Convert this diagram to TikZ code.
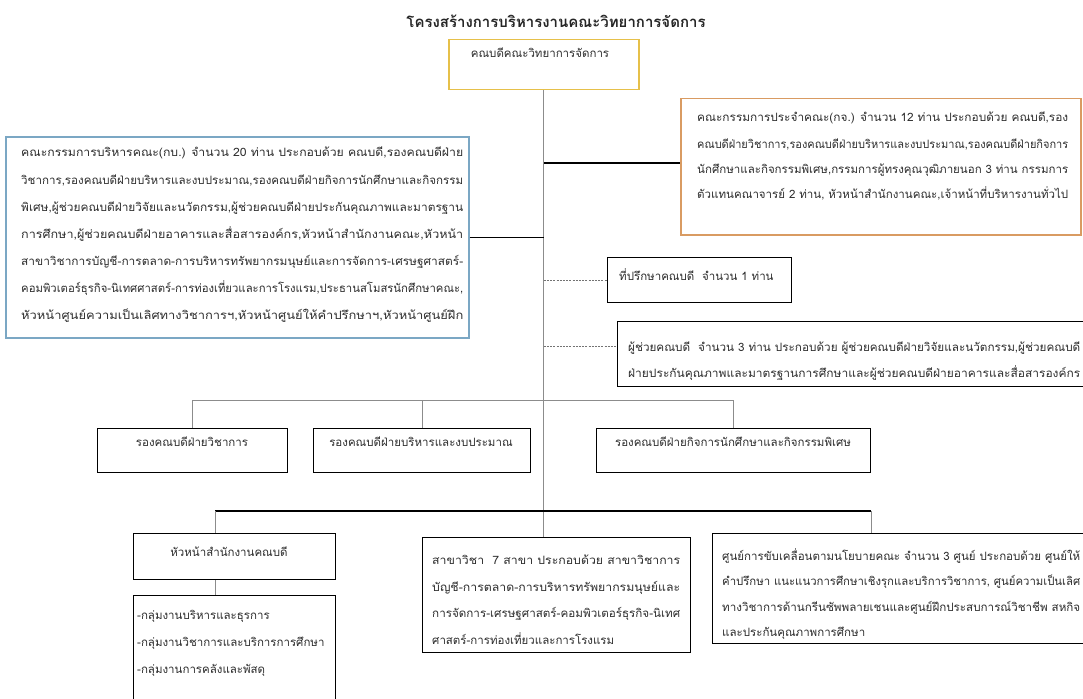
\documentclass[tikz,border=0pt]{standalone}
\usepackage{fontspec}
\usepackage{graphicx}
\newfontfamily\thaifont[Script=Thai]{Loma}
\definecolor{deanc}{HTML}{E6C04A}
\definecolor{orangec}{HTML}{D99B62}
\definecolor{bluec}{HTML}{7BA7C4}
\definecolor{txtc}{HTML}{2E2E2E}
\newcommand\jfit[2]{\resizebox{#1}{\height}{#2}}
\tikzset{
  box/.style={draw=black, line width=1.3pt, anchor=north west, inner sep=0pt, fill=white},
  txt/.style={font=\thaifont\fontsize{11.5}{13}\selectfont, text=txtc, inner sep=0pt, anchor=base west},
  ctxt/.style={txt, anchor=base},
  ln/.style={draw=black!45, line width=0.8pt},
  blk/.style={draw=black, line width=1.2pt},
  dsh/.style={draw=black!55, line width=0.6pt, dash pattern=on 2pt off 1.2pt}
}
\begin{document}
\begin{tikzpicture}[x=1pt,y=-1pt]
\clip (0,0) rectangle (1083,698);
\fill[white] (0,0) rectangle (1083,698);

% boxes
\node[box, draw=deanc, line width=1.5pt, minimum width=190pt, minimum height=50pt] (dean) at (448,39) {};
\node[box, draw=orangec, line width=1.5pt, minimum width=400pt, minimum height=136pt] (orange) at (680,98) {};
\node[box, draw=bluec, line width=1.5pt, minimum width=463pt, minimum height=201pt] (blue) at (5,136) {};
\node[box, minimum width=184pt, minimum height=45pt] (adv) at (607,257) {};
\node[box, minimum width=500pt, minimum height=65pt] (asst) at (617,321) {};
\node[box, minimum width=190pt, minimum height=44pt] (vd1) at (97,428) {};
\node[box, minimum width=217pt, minimum height=44pt] (vd2) at (313,428) {};
\node[box, minimum width=274pt, minimum height=44pt] (vd3) at (596,428) {};
\node[box, minimum width=202pt, minimum height=46pt] (off) at (133,533) {};
\node[box, minimum width=202pt, minimum height=120pt] (list) at (133,595) {};
\node[box, minimum width=268pt, minimum height=115pt] (mid) at (422,537) {};
\node[box, minimum width=400pt, minimum height=110pt] (right) at (712,533) {};

% connectors
\coordinate (hubA) at (543,400);
\coordinate (hubB) at (543,511);
\coordinate (offdrop) at (215,533);
\coordinate (rdrop) at (871,533);
\coordinate (orgin) at (680,163);
\coordinate (asstin) at (617,346);
\draw[ln] (dean.south) -- (dean.south |- mid.north);
\draw[blk] (dean.south |- orgin) -- (orgin);
\draw[blk] (blue.east) -- (blue.east -| dean.south);
\draw[dsh] (adv.west -| dean.south) -- (adv.west);
\draw[dsh] (asstin -| dean.south) -- (asstin);
\draw[ln] (vd1.north) -- (vd1.north |- hubA) -- (vd3.north |- hubA) -- (vd3.north);
\draw[ln] (vd2.north) -- (vd2.north |- hubA);
\draw[blk] (offdrop |- hubB) -- (rdrop |- hubB);
\draw[ln] (offdrop |- hubB) -- (offdrop);
\draw[ln] (rdrop |- hubB) -- (rdrop);
\draw[ln] (offdrop |- off.south) -- (offdrop |- list.north);

% title
\node[font=\thaifont\bfseries\fontsize{15}{17}\selectfont, text=black!85, inner sep=0pt, anchor=base] (title) at (556,28) {โครงสร้างการบริหารงานคณะวิทยาการจัดการ};
\node[ctxt] (deant) at (540,58) {คณบดีคณะวิทยาการจัดการ};

% blue box text
\node[txt] (b1) at (21,157) {\jfit{442pt}{คณะกรรมการบริหารคณะ(กบ.) จำนวน 20 ท่าน ประกอบด้วย คณบดี,รองคณบดีฝ่าย}};
\node[txt] (b2) at (21,184) {\jfit{442pt}{วิชาการ,รองคณบดีฝ่ายบริหารและงบประมาณ,รองคณบดีฝ่ายกิจการนักศึกษาและกิจกรรม}};
\node[txt] (b3) at (21,211) {\jfit{442pt}{พิเศษ,ผู้ช่วยคณบดีฝ่ายวิจัยและนวัตกรรม,ผู้ช่วยคณบดีฝ่ายประกันคุณภาพและมาตรฐาน}};
\node[txt] (b4) at (21,238) {\jfit{442pt}{การศึกษา,ผู้ช่วยคณบดีฝ่ายอาคารและสื่อสารองค์กร,หัวหน้าสำนักงานคณะ,หัวหน้า}};
\node[txt] (b5) at (21,265) {\jfit{442pt}{สาขาวิชาการบัญชี-การตลาด-การบริหารทรัพยากรมนุษย์และการจัดการ-เศรษฐศาสตร์-}};
\node[txt] (b6) at (21,292) {\jfit{442pt}{คอมพิวเตอร์ธุรกิจ-นิเทศศาสตร์-การท่องเที่ยวและการโรงแรม,ประธานสโมสรนักศึกษาคณะ,}};
\node[txt] (b7) at (21,319) {\jfit{442pt}{หัวหน้าศูนย์ความเป็นเลิศทางวิชาการฯ,หัวหน้าศูนย์ให้คำปรึกษาฯ,หัวหน้าศูนย์ฝึก}};

% orange box text
\node[txt] (o1) at (697,122) {\jfit{371pt}{คณะกรรมการประจำคณะ(กจ.) จำนวน 12 ท่าน ประกอบด้วย คณบดี,รอง}};
\node[txt] (o2) at (697,148) {\jfit{371pt}{คณบดีฝ่ายวิชาการ,รองคณบดีฝ่ายบริหารและงบประมาณ,รองคณบดีฝ่ายกิจการ}};
\node[txt] (o3) at (697,173) {\jfit{371pt}{นักศึกษาและกิจกรรมพิเศษ,กรรมการผู้ทรงคุณวุฒิภายนอก 3 ท่าน กรรมการ}};
\node[txt] (o4) at (697,198) {\jfit{371pt}{ตัวแทนคณาจารย์ 2 ท่าน, หัวหน้าสำนักงานคณะ,เจ้าหน้าที่บริหารงานทั่วไป}};

% advisor / assistants
\node[txt] (advt) at (619,280) {ที่ปรึกษาคณบดี\ \ จำนวน 1 ท่าน};
\node[txt] (a1) at (628,351) {\jfit{452pt}{ผู้ช่วยคณบดี\ \ จำนวน 3 ท่าน ประกอบด้วย ผู้ช่วยคณบดีฝ่ายวิจัยและนวัตกรรม,ผู้ช่วยคณบดี}};
\node[txt] (a2) at (628,377) {\jfit{452pt}{ฝ่ายประกันคุณภาพและมาตรฐานการศึกษาและผู้ช่วยคณบดีฝ่ายอาคารและสื่อสารองค์กร}};

% vice deans
\node[ctxt] (vd1t) at (192,446) {รองคณบดีฝ่ายวิชาการ};
\node[ctxt] (vd2t) at (421,446) {รองคณบดีฝ่ายบริหารและงบประมาณ};
\node[ctxt] (vd3t) at (733,446) {รองคณบดีฝ่ายกิจการนักศึกษาและกิจกรรมพิเศษ};

% office
\node[ctxt] (offt) at (229,556) {หัวหน้าสำนักงานคณบดี};
\node[txt] (l1) at (137,619) {-กลุ่มงานบริหารและธุรการ};
\node[txt] (l2) at (137,646) {-กลุ่มงานวิชาการและบริการการศึกษา};
\node[txt] (l3) at (137,673) {-กลุ่มงานการคลังและพัสดุ};

% middle
\node[txt] (m1) at (432,564) {\jfit{248pt}{สาขาวิชา\ \ 7 สาขา ประกอบด้วย สาขาวิชาการ}};
\node[txt] (m2) at (432,591) {\jfit{248pt}{บัญชี-การตลาด-การบริหารทรัพยากรมนุษย์และ}};
\node[txt] (m3) at (432,617) {\jfit{248pt}{การจัดการ-เศรษฐศาสตร์-คอมพิวเตอร์ธุรกิจ-นิเทศ}};
\node[txt] (m4) at (432,644) {ศาสตร์-การท่องเที่ยวและการโรงแรม};

% right
\node[txt] (r1) at (722,560) {\jfit{358pt}{ศูนย์การขับเคลื่อนตามนโยบายคณะ จำนวน 3 ศูนย์ ประกอบด้วย ศูนย์ให้}};
\node[txt] (r2) at (722,585.5) {\jfit{358pt}{คำปรึกษา แนะแนวการศึกษาเชิงรุกและบริการวิชาการ, ศูนย์ความเป็นเลิศ}};
\node[txt] (r3) at (722,611) {\jfit{358pt}{ทางวิชาการด้านกรีนซัพพลายเชนและศูนย์ฝึกประสบการณ์วิชาชีพ สหกิจ}};
\node[txt] (r4) at (722,636.5) {และประกันคุณภาพการศึกษา};
\end{tikzpicture}
\end{document}
